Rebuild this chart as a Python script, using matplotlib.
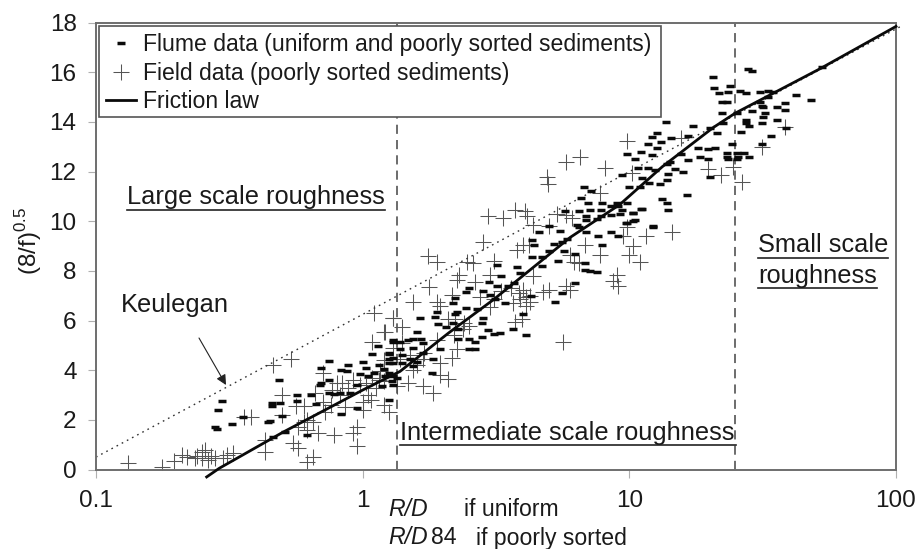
import matplotlib
matplotlib.use("Agg")
import matplotlib.pyplot as plt
from matplotlib.lines import Line2D
from matplotlib.patches import FancyArrowPatch, Rectangle

plt.rcParams['font.family'] = ['Liberation Sans', 'DejaVu Sans']
plt.rcParams['mathtext.fontset'] = 'custom'
plt.rcParams['mathtext.rm'] = 'Liberation Sans'

x_ticks = [0.1, 1, 10, 100]
x_tick_labels = ['0.1', '1', '10', '100']
y_ticks = list(range(0, 19, 2))

friction_x = [.26, .29, .5, 1, 1.38, 2.1, 3.1, 6, 9.2, 13.3, 20.6, 24.9, 52, 100]
friction_y = [-.3, .05, 1.49, 3.2, 3.95, 5.5, 6.85, 9.35, 10.67, 12.2, 13.77, 14.35, 16.15, 17.85]
keulegan_x = [.1, 105]
keulegan_y = [.5, 17.87]
regime_limits = [1.35, 24.9]

field = [
 (.132,.27),(.177,.1),(.196,.35),(.21,.6),(.22,.5),(.235,.47),(.25,.72),(.256,.8),(.262,.4),(.28,.47),
 (.3,.48),(.31,.6),(.326,.65),(.24,.55),(.27,.55),(.25,.45),(.43,1.2),(.43,.72),(.55,1.08),(.57,.88),(.62,.32),(.65,.52),
 (.46,4.2),(.54,4.47),(.5,3.0),(.38,2.13),(.36,2.13),(.5,2.2),(.56,2.55),(.6,2.55),(.57,1.73),(.62,2.0),
 (.62,1.6),(.65,1.93),(.68,1.49),(.78,1.37),(.92,1.49),(.95,1.73),(.95,.93),(.66,3.1),(.71,3.9),(.71,2.7),
 (.8,3.5),(.84,3.5),(1.0,2.7),(1.0,2.4),(1.07,2.8),(1.1,6.3),(1.3,6.1),(1.08,5.15),(1.2,5.55),(1.25,2.3),
 (1.2,2.6),(1.16,3.95),(.77,3.2),(.82,3.0),(.88,3.3),(.92,3.6),(.98,3.4),(1.03,3.5),(1.08,3.7),(1.12,3.3),
 (.72,2.3),(.76,2.6),(.86,2.5),(.6,1.9),(1.15,3.6),(1.05,3.0),(1.2,3.55),
 (9.8,13.25),(6.53,12.6),(5.79,12.4),(8.1,12.15),(4.9,11.8),(4.95,11.5),(7.76,11.15),(10.2,11.95),(5.36,10.3),
 (6.1,10.15),(5.8,10.25),(5.0,9.8),(9.8,9.75),(11.5,9.4),(9.5,9.4),(10.3,9.0),(10,8.65),(11,8.35),(9,7.85),
 (8.7,7.6),(9.06,7.4),(7.76,8.65),(6.8,9.05),(6,8.65),(6.2,8.35),(6.5,8.3),(5.65,5.15),(6,7.25),(5.8,7.4),
 (4.75,7.15),(5,7.25),(3.97,6.05),(3.73,5.95),(4.25,6.75),(4.1,6.95),(4.37,7.8),(3.8,8.85),(4,9.05),(4.2,9.05),
 (3.73,10.45),(4.06,10.4),(4.15,10.2),(4.37,9.87),(3.36,10.15),(2.95,10.2),(2.83,9.15),(1.76,8.6),(1.9,8.35),
 (2.46,8.35),(2.6,8.3),(3.1,8.4),(3,7.85),(2.3,7.85),(2.26,7.65),(2.64,7.55),(1.78,7.35),(1.55,6.75),(1.9,6.75),
 (1.95,6.6),(2.16,7.05),(1.3,6.1),(1.41,5.75),(1.21,5.55),(2.38,5.65),(2.5,5.8),(2.26,4.85),(2.16,4.5),(1.95,4.3),
 (1.95,3.8),(2.09,3.65),(1.68,3.35),(1.84,3.1),(1.48,3.5),(1.35,3.35),(1.55,4.0),(1.38,4.45),(1.68,4.45),(1.41,5.1),
 (4,7.25),(3.85,7.1),(3.66,6.7),(4.25,7),(3.1,6.85),(2.76,6.95),(3,6.55),(2.22,6.05),(2.09,6.05),(3.3,7.2),(3.6,7.3),
 (3.9,6.85),(4.1,6.6),(2.4,5.9),(2.2,5.4),(1.9,5.2),(1.7,4.7),(1.5,4.6),(1.3,4.9),(1.2,4.4),(1.6,4.2),
 (15.6,13.35),(19.7,12.1),(22,11.85),(24.5,12.2),(26.5,11.6),(31.4,13),(38.4,13.8),(14.5,9.55),
]
flume = [
 (6.76,11.4),(7.2,11.2),(6.6,10.95),(7,10.75),(7.9,10.75),(9,10.75),(9.1,10.6),(8.5,10.6),(7.8,10.45),(7.1,10.45),
 (6.45,10.4),(5.75,10.4),(6.9,10.2),(7.8,10.2),(8.5,10.25),(9.2,10.3),(10.3,10.35),(11.1,10.5),(10.5,10.05),(9.7,9.95),
 (7.55,10.1),(6.9,10.05),(6.35,9.85),(6.5,9.75),(6.9,9.55),(5,9.8),(5.5,9.6),(4.6,9.55),(8.5,9.55),(9.1,9.4),
 (7.6,9.4),(12.3,9.8),(5.85,9.3),(5.6,9.15),(5.2,9.1),(4.3,9.25),(4.4,9.05),(7.9,9.05),(5,8.8),(5.7,8.8),
 (6.25,8.7),(4.3,8.55),(4.7,8.55),(5.4,8.4),(4.7,8.2),(6.8,8.3),(6.8,8.05),(7.1,8),(7.55,7.95),(3.2,8.25),
 (3.8,8.15),(3.9,7.9),(3.3,7.8),(2.97,7.55),(3.2,7.4),(2.5,7.3),(2.44,7.15),(3.5,7.4),(3.7,7.5),(2.83,7.2),
 (3,7.05),(2.22,6.9),(2.19,6.7),(3.13,6.85),(3.42,6.7),(4.26,7),(6.25,7.5),(5.6,7.1),(5.25,6.75),(2.45,6.5),
 (2.68,6.45),(2.26,6.35),(1.9,6.35),(1.64,6.1),(2.22,6.25),(2.83,6.1),(2.8,5.9),(4,6.25),(3.66,5.65),(4.1,5.4),
 (3.27,5.5),(3.1,5.45),(2.95,5.6),(2.8,5.35),(2.64,5.15),(2.5,4.85),(2.64,4.85),(2.5,5.25),(2.28,5.25),(1.95,4.85),
 (1.92,5.85),(1.86,6.15),(2.19,5.9),(2.05,5.75),(2.28,5.65),(1.6,5.55),(1.3,5.2),(1.38,5.15),(1.48,5.2),(1.55,5.25),
 (1.66,5.25),(1.68,5.1),(1.38,4.85),(1.25,4.65),(1.55,4.9),(1.68,4.7),(1.84,4.45),(1.26,4.45),(1.3,4.3),(1.41,4.3),
 (1.55,4.15),(1.82,3.9),(1.21,3.75),(1.35,3.7),(1.29,3.55),(1.18,3.35),(1.3,3.4),(1.4,4.6),(1.5,4.45),(1.6,4.35),
 (27.9,16.15),(28.8,16.07),(20.6,15.8),(23.8,15.45),(20.8,15.35),(21.7,15.15),(23.4,15.2),(26,15.25),(27.4,15.15),
 (30.9,15.2),(33,15.25),(34.6,15.2),(33,15),(31,14.8),(42,15.1),(48,14.9),(53,16.2),(22.2,14.8),(23.2,14.8),(22.2,14.35),
 (31.4,14.65),(31.8,14.6),(38.4,14.75),(38.4,14.5),(35.7,14.6),(28.8,14.45),(25.3,14.35),(32.3,14.35),(31.8,14.2),
 (35.7,14.1),(27.5,14.1),(27.5,13.95),(28.2,13.85),(31.4,13.95),(26.3,13.6),(38.6,13.75),(33.9,13.45),(13.7,14),
 (17.4,13.85),(20,13.75),(21.3,13.55),(22.5,13.95),(12.7,13.55),(12.2,13.4),(14.3,13.35),(16.6,13.45),(13.2,13.2),
 (11.7,13.1),(24.3,13.1),(31.4,13.1),(18.1,12.95),(19.7,12.9),(20.9,12.95),(12.7,12.95),(11.1,12.8),(9.8,12.7),
 (10.5,12.5),(12.2,12.65),(15.6,12.7),(18.4,12.6),(19.7,12.5),(23.2,12.75),(23.2,12.6),(25.3,12.75),(26.9,12.75),
 (25.5,12.6),(28.2,12.6),(23.4,12.5),(25.3,12.5),(14.2,12.4),(16.6,12.45),(13.8,12.3),(11.7,12.15),(10.8,12.15),
 (12.5,12.05),(14.8,12.1),(15.9,12),(14,11.9),(9.4,11.85),(11.2,11.75),(13.8,11.65),(11.9,11.55),(20,11.8),(13,11.5),
 (10,11.4),(11,11.4),(16.4,11.05),(13.3,10.9),(13.8,10.75),(11.2,10.5),(14,10.45),(10.3,10.35),(9.8,10.75),(9.4,10.45),
 (10.3,10),(9.8,9.95),(12.3,9.75),
 (.297,2.74),(.287,2.38),(.28,1.73),(.284,1.65),(.323,1.85),(.356,2.1),(.485,3.62),(.566,3.02),(.566,2.74),(.49,2.66),
 (.458,2.66),(.458,2.55),(.45,1.97),(.44,1.93),(.497,2.17),(.51,1.53),(.46,1.29),(.62,1.37),(.75,4.39),(.7,4.1),
 (.88,4.23),(1,4.35),(.83,3.99),(.87,3.95),(1.03,4.1),(.75,3.62),(.7,3.5),(.69,3.4),(.98,3.83),(1.05,3.75),(.82,3.1),
 (.75,3.1),(.67,2.62),(.83,2.25),(.95,2.46),(.95,3.42),(1.25,2.78),(1.08,4.67),(1.14,4.99),(1.3,5.15),(1.25,4.7),
 (1.3,4.5),(1.25,4.3),(1.3,3.75),(1.1,3.9),(1.15,4.2),(1.2,4.05),(1.25,3.9),(.9,3.1),(.78,3.05),(.64,3.0),
]

field_x, field_y = zip(*field)
flume_x, flume_y = zip(*flume)

W, H = 919, 549
fig = plt.figure(figsize=(W / 100, H / 100), dpi=100)
ax = fig.add_axes([96 / W, 1 - 469.5 / H, 800 / W, (469.5 - 22.7) / H])
GREY = '#6e6e6e'
INK = '#1a1a1a'

ax.set_xscale('log')
ax.set_xlim(0.1, 100)
ax.set_ylim(0, 18)

field_handle, = ax.plot(field_x, field_y, ls='none', marker='+', ms=11, mew=0.75, color='#555555', zorder=2)
flume_handle, = ax.plot(flume_x, flume_y, ls='none', marker='_', ms=5.4, mew=2.5, color='#0a0a0a', zorder=3)
friction_handle, = ax.plot(friction_x, friction_y, color='#0a0a0a', lw=2.0, zorder=4, clip_on=False)
ax.plot(keulegan_x, keulegan_y, color='#333333', lw=1.0, ls=(0, (1.2, 3)), zorder=2, clip_on=False)
for lim in regime_limits:
    ax.axvline(lim, color='#444444', lw=1.1, ls=(0, (6, 4)), zorder=1)

ax.set_xticks(x_ticks)
ax.set_xticklabels(x_tick_labels)
ax.minorticks_off()
ax.set_yticks(y_ticks)
ax.tick_params(axis='both', labelsize=17.5, length=6, width=0.8, color='#b0b0b0', labelcolor=INK, pad=8)
ax.tick_params(axis='x', pad=9)
for s in ax.spines.values():
    s.set_color(GREY)
    s.set_linewidth(1.4)

fig.text(29 / W, 1 - 241 / H, r'(8/f)$^{\mathrm{0.5}}$', fontsize=17.5, color=INK, rotation=90,
         ha='center', va='center')

fx0, fy0 = (99 - 96) / 800, (469.5 - 117) / (469.5 - 22.7)
fw, fh = (661 - 99) / 800, (117 - 26) / (469.5 - 22.7)
ax.add_patch(Rectangle((fx0, fy0), fw, fh, transform=ax.transAxes, facecolor='white',
                       edgecolor='#555555', lw=1.2, zorder=5))
leg = ax.legend([flume_handle, field_handle, Line2D([], [], color='#0a0a0a', lw=2)],
                ['Flume data (uniform and poorly sorted sediments)',
                 'Field data (poorly sorted sediments)', 'Friction law'],
                loc='upper left', bbox_to_anchor=(fx0, fy0, fw, fh), mode='expand', borderaxespad=0,
                fontsize=16.6, frameon=False,
                labelspacing=0.23, handlelength=1.3, handletextpad=0.27, borderpad=0.32,
                labelcolor=INK)
leg.set_zorder(6)


def label(px, py, s, size=18.3, **kw):
    fig.text(px / W, 1 - py / H, s, fontsize=size, color=INK, va='center', **kw)


def underline(p0, p1, py):
    fig.add_artist(Line2D([p0 / W, p1 / W], [1 - py / H] * 2, color='#222222', lw=1.2))


label(127, 197, 'Large scale roughness')
underline(127, 385, 210)
label(400, 433, 'Intermediate scale roughness')
underline(400, 736, 445)
label(758, 245, 'Small scale')
underline(758, 888, 258)
label(758, 276, 'roughness')
underline(758, 877, 288)
label(121, 305, 'Keulegan')
fig.add_artist(FancyArrowPatch((199 / W, 1 - 338 / H), (226 / W, 1 - 385 / H), transform=fig.transFigure,
                               arrowstyle='-|>', mutation_scale=15, lw=0.8, color='#222222', shrinkA=0, shrinkB=0))
label(388, 510, 'R/D', 16.6, style='italic')
label(464, 510, 'if uniform', 16.6)
label(388, 538, 'R/D', 16.6, style='italic')
label(431, 538, '84', 16.6)
label(476, 538, 'if poorly sorted', 16.6)

fig.savefig('out.png', dpi=100)
